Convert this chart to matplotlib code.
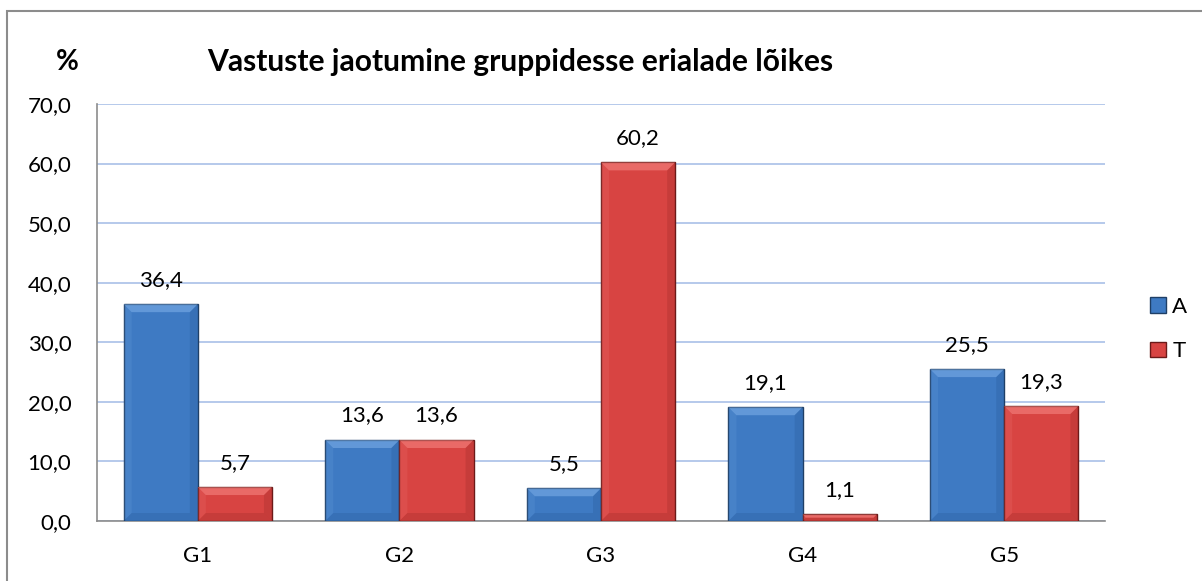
import matplotlib.pyplot as plt
import numpy as np
from matplotlib.patches import Rectangle, Polygon

plt.rcParams['font.family'] = ['Lato', 'DejaVu Sans']

groups = ["G1", "G2", "G3", "G4", "G5"]
series_names = ["A", "T"]
values_a = [36.4, 13.6, 5.5, 19.1, 25.5]
values_t = [5.7, 13.6, 60.2, 1.1, 19.3]

blue = "#3E7AC3"
red = "#D84442"

fig = plt.figure(figsize=(12.02, 5.81), dpi=100)
ax = fig.add_axes([97 / 1202, 1 - 521 / 581, (1105 - 97) / 1202, (521 - 104) / 581])

# outer chart frame
fig.patches.append(Rectangle((7 / 1202, -0.1), 1.2, 1 - 11 / 581 + 0.1, transform=fig.transFigure,
                             fill=False, edgecolor="#8C8C8C", linewidth=1.5))

x = np.arange(len(groups))
w = 0.368
b1 = ax.bar(x - w / 2, values_a, w, color=blue, edgecolor="#1F3F66", linewidth=1, label=series_names[0], zorder=3)
b2 = ax.bar(x + w / 2, values_t, w, color=red, edgecolor="#6B1A19", linewidth=1, label=series_names[1], zorder=3)

fmt = lambda v: f"{v:.1f}".replace(".", ",")
for bars, vals in ((b1, values_a), (b2, values_t)):
    for r, v in zip(bars, vals):
        ax.text(r.get_x() + r.get_width() / 2, v + 4.1, fmt(v), ha="center", va="center", fontsize=16)

ax.set_xlim(-0.5, 4.5)
ax.set_ylim(0, 70)
ax.set_yticks(np.arange(0, 71, 10))
ax.set_yticklabels([fmt(t) for t in np.arange(0, 71, 10)], fontsize=16)
ax.set_xticks(x)
ax.set_xticklabels(groups, fontsize=16)
ax.tick_params(axis="y", length=0, pad=18.5)
ax.tick_params(axis="x", length=0, pad=18)
ax.grid(axis="y", color="#A9C0E8", linewidth=1.2, zorder=0)
for s in ("top", "right"):
    ax.spines[s].set_visible(False)
ax.spines["left"].set_color("#8C8C8C")
ax.spines["bottom"].set_color("#8C8C8C")
ax.spines["left"].set_linewidth(1.2)
ax.spines["bottom"].set_linewidth(1.2)

# bevel look on the bars (pixel offsets from each bar's own extent)
def bevel(bars, light, dark):
    for r in bars:
        (x0, y0), (x1, y1) = ax.transData.transform([(r.get_x(), 0), (r.get_x() + r.get_width(), r.get_height())])
        d = min(8, (y1 - y0) / 2)
        faces = [
            ([(x0, y1), (x1, y1), (x1 - d, y1 - d), (x0 + d, y1 - d)], light, 0.45),
            ([(x1, y1), (x1, y0), (x1 - d, y0 + d), (x1 - d, y1 - d)], dark, 0.2),
            ([(x0, y0), (x1, y0), (x1 - d, y0 + d), (x0 + d, y0 + d)], dark, 0.2),
            ([(x0, y1), (x0, y0), (x0 + d, y0 + d), (x0 + d, y1 - d)], light, 0.12),
        ]
        for pts, c, a in faces:
            fig.patches.append(Polygon(pts, closed=True, transform=None, facecolor=c, edgecolor="none",
                                       alpha=a, zorder=4))

bevel(b1, "#8FBEF2", "#1E4C86")
bevel(b2, "#FF9A96", "#7E1C1A")

fig.text(67 / 1202, 1 - 62 / 581, "%", ha="center", va="center", fontsize=20, fontweight="bold")
fig.text(520 / 1202, 1 - 62 / 581, "Vastuste jaotumine gruppidesse erialade lõikes", ha="center", va="center",
         fontsize=21.6, fontweight="bold")

fig.legend(handles=[b1, b2], labels=series_names, loc="center left", bbox_to_anchor=(1130 / 1202, 1 - 329 / 581),
           frameon=False, fontsize=16, handlelength=0.7, handleheight=0.7, handletextpad=0.3, labelspacing=1.1)

fig.savefig("out.png", dpi=100)
